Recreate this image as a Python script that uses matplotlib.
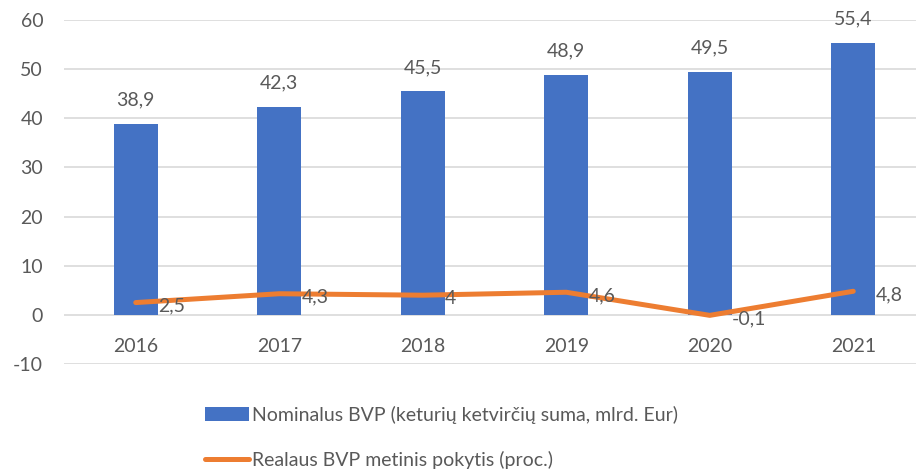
import matplotlib
matplotlib.use("Agg")
import matplotlib.pyplot as plt
import numpy as np

years = ["2016", "2017", "2018", "2019", "2020", "2021"]
nominal = [38.9, 42.3, 45.5, 48.9, 49.5, 55.4]
real_change = [2.5, 4.3, 4.0, 4.6, -0.1, 4.8]
nominal_labels = ["38,9", "42,3", "45,5", "48,9", "49,5", "55,4"]
real_labels = ["2,5", "4,3", "4", "4,6", "-0,1", "4,8"]
legend_labels = ["Nominalus BVP (keturių ketvirčių suma, mlrd. Eur)",
                 "Realaus BVP metinis pokytis (proc.)"]

plt.rcParams['font.family'] = ['Lato', 'DejaVu Sans']
plt.rcParams['axes.unicode_minus'] = False
TXT = "#595959"
BLUE = "#4472C4"
ORANGE = "#ED7D31"

W, H = 916, 475
fig = plt.figure(figsize=(W / 100, H / 100), dpi=100)
ax = fig.add_axes([64 / W, (H - 364) / H, (925 - 64) / W, (364 - 20) / H])

x = np.arange(len(years))
bars = ax.bar(x, nominal, width=0.31, color=BLUE, zorder=2, label=legend_labels[0])
line, = ax.plot(x, real_change, color=ORANGE, lw=3.6, solid_capstyle='round',
                solid_joinstyle='round', zorder=3, label=legend_labels[1])

ax.set_xlim(-0.5, len(years) - 0.5)
ax.set_ylim(-10, 60)
ax.set_yticks(range(-10, 61, 10))
ax.grid(axis='y', color="#D9D9D9", lw=1.2, zorder=0)
ax.set_axisbelow(True)
for s in ax.spines.values():
    s.set_visible(False)
ax.tick_params(axis='y', length=0, pad=15, labelsize=14, labelcolor=TXT)
ax.set_xticks([])

for xi, v, lab in zip(x, nominal, nominal_labels):
    ax.annotate(lab, (xi, v), xytext=(0, 17), textcoords='offset points',
                ha='center', va='center', fontsize=14, color=TXT)
for xi, v, lab in zip(x, real_change, real_labels):
    ax.annotate(lab, (xi, v), xytext=(16, -2.5), textcoords='offset points',
                ha='left', va='center', fontsize=14, color=TXT, zorder=4)
for xi, lab in zip(x, years):
    ax.annotate(lab, (xi, 0), xytext=(0, -23), textcoords='offset points',
                ha='center', va='center', fontsize=14, color=TXT)

leg = fig.legend(handles=[bars, line], labels=legend_labels,
                 loc='upper left', bbox_to_anchor=(187 / W, 1 - 388 / H),
                 frameon=False, fontsize=14, handlelength=2.3,
                 handletextpad=0.15, labelspacing=1.4)
for t in leg.get_texts():
    t.set_color(TXT)

fig.savefig("out.png", dpi=100)
